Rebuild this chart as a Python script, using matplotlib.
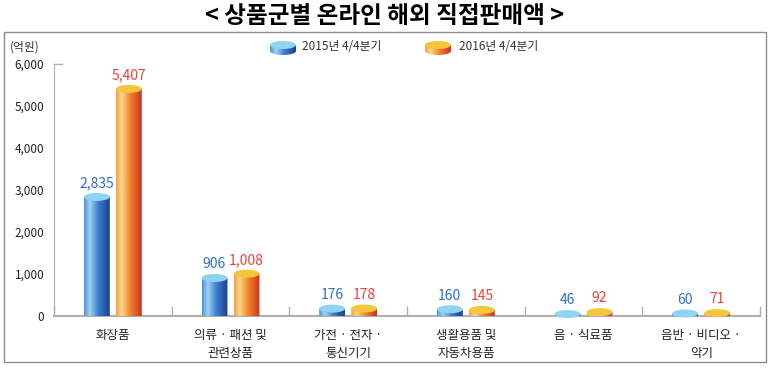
import numpy as np
import matplotlib
matplotlib.use("Agg")
import matplotlib.pyplot as plt
from matplotlib.patches import Ellipse, Rectangle, PathPatch
from matplotlib.path import Path

plt.rcParams['font.family'] = ['Noto Sans CJK KR', 'DejaVu Sans']

# data
categories = ["화장품", "의류 · 패션 및\n관련상품", "가전 · 전자 ·\n통신기기",
              "생활용품 및\n자동차용품", "음 · 식료품", "음반 · 비디오 ·\n악기"]
sales_2015 = [2835, 906, 176, 160, 46, 60]
sales_2016 = [5407, 1008, 178, 145, 92, 71]
series_names = ["2015년 4/4분기", "2016년 4/4분기"]

# colours (left -> right gradient stops)
blue_stops = [(0.0, "#4f93d6"), (0.22, "#9fd2f3"), (0.55, "#3d7fcf"), (1.0, "#1b3e8c")]
orange_stops = [(0.0, "#f3a24a"), (0.22, "#fbd889"), (0.55, "#f2852c"), (1.0, "#c93220")]
blue_top = "#8fd4f3"
orange_top = "#f4c63c"
blue_text = "#2f6fc6"
red_text = "#f0403c"


def gradient(stops, n=64):
    pos = [s[0] for s in stops]
    cols = np.array([matplotlib.colors.to_rgb(s[1]) for s in stops])
    t = np.linspace(0, 1, n)
    img = np.stack([np.interp(t, pos, cols[:, k]) for k in range(3)], axis=-1)
    return img[np.newaxis, :, :]


def cylinder(ax, xc, bottom, top, w, eh, stops, topcol, flip=False):
    x0, x1 = xc - w / 2, xc + w / 2
    th = np.linspace(np.pi, 2 * np.pi, 40)
    sgn = -1 if flip else 1
    arc = np.column_stack([xc + w / 2 * np.cos(th), bottom + sgn * eh / 2 * np.sin(th)])
    verts = [(x0, top)] + [tuple(p) for p in arc] + [(x1, top), (x0, top)]
    codes = [Path.MOVETO] + [Path.LINETO] * (len(verts) - 2) + [Path.CLOSEPOLY]
    clip = PathPatch(Path(verts, codes), transform=ax.transData, facecolor="none", edgecolor="none")
    ax.add_patch(clip)
    lo, hi = (bottom - eh / 2, top) if not flip else (top, bottom + eh / 2)
    im = ax.imshow(gradient(stops), extent=[x0, x1, lo, hi], aspect="auto", zorder=3,
                   interpolation="bilinear")
    im.set_clip_path(clip)
    im.set_clip_box(None)
    ax.add_patch(Ellipse((xc, top), w, eh, facecolor=topcol, edgecolor="none", zorder=4,
                         clip_on=False))


fig = plt.figure(figsize=(7.71, 3.70), dpi=100)

# overlay in pixel coordinates for frame, title and legend
ov = fig.add_axes([0, 0, 1, 1])
ov.set_xlim(0, 771)
ov.set_ylim(370, 0)
ov.axis("off")
ov.add_patch(Rectangle((4, 32), 762, 330, facecolor="none", edgecolor="#8c8c8c", lw=1))
ov.text(385, 16, "< 상품군별 온라인 해외 직접판매액 >", ha="center", va="center",
        fontsize=17, fontweight="bold", color="black")
ov.text(10, 47, "(억원)", ha="left", va="center", fontsize=8.5, color="#333333")
cylinder(ov, 283, 51, 45, 26, 8, blue_stops, blue_top, flip=True)
ov.text(302, 47, series_names[0], ha="left", va="center", fontsize=8.5, color="#333333")
cylinder(ov, 438, 51, 45, 26, 8, orange_stops, orange_top, flip=True)
ov.text(459, 47, series_names[1], ha="left", va="center", fontsize=8.5, color="#333333")

# main chart
ax = fig.add_axes([54 / 771, 1 - 316 / 370, 706 / 771, 252 / 370])
ax.set_zorder(2)
ax.patch.set_alpha(0)
x = np.arange(len(categories))
ax.set_xlim(-0.5, len(categories) - 0.5)
ax.set_ylim(0, 6000)

w = 0.22
off = 0.136
eh = 190
for i in range(len(categories)):
    cylinder(ax, x[i] - off, 0, sales_2015[i], w, eh, blue_stops, blue_top)
    cylinder(ax, x[i] + off, 0, sales_2016[i], w, eh, orange_stops, orange_top)
    ax.annotate(f"{sales_2015[i]:,}", (x[i] - off, sales_2015[i] + eh / 2),
                xytext=(0, 2), textcoords="offset points", ha="center", va="bottom",
                fontsize=10, color=blue_text)
    ax.annotate(f"{sales_2016[i]:,}", (x[i] + off, sales_2016[i] + eh / 2),
                xytext=(0, 2), textcoords="offset points", ha="center", va="bottom",
                fontsize=10, color=red_text)

for s in ["top", "right"]:
    ax.spines[s].set_visible(False)
ax.spines["left"].set_color("#b0b0b0")
ax.spines["bottom"].set_color("#b0b0b0")
ax.spines["bottom"].set_linewidth(1.5)

ax.set_yticks(np.arange(0, 6001, 1000))
ax.set_yticklabels([f"{v:,}" for v in range(0, 6001, 1000)], fontsize=8.5, color="#222222")
ax.tick_params(axis="y", length=0, pad=7)
ax.plot([-0.5, -0.43], [6000, 6000], color="#b0b0b0", lw=1, clip_on=False)

ax.set_xticks(np.arange(-0.5, len(categories) - 0.4, 1.0), minor=False)
ax.set_xticklabels([])
ax.tick_params(axis="x", direction="in", length=7, color="#b0b0b0", width=1)
ax.set_xticks(x, minor=True)
ax.set_xticklabels(categories, minor=True, fontsize=9, color="#222222", linespacing=1.5)
ax.tick_params(axis="x", which="minor", length=0, pad=9)

fig.savefig("out.png", dpi=100)
